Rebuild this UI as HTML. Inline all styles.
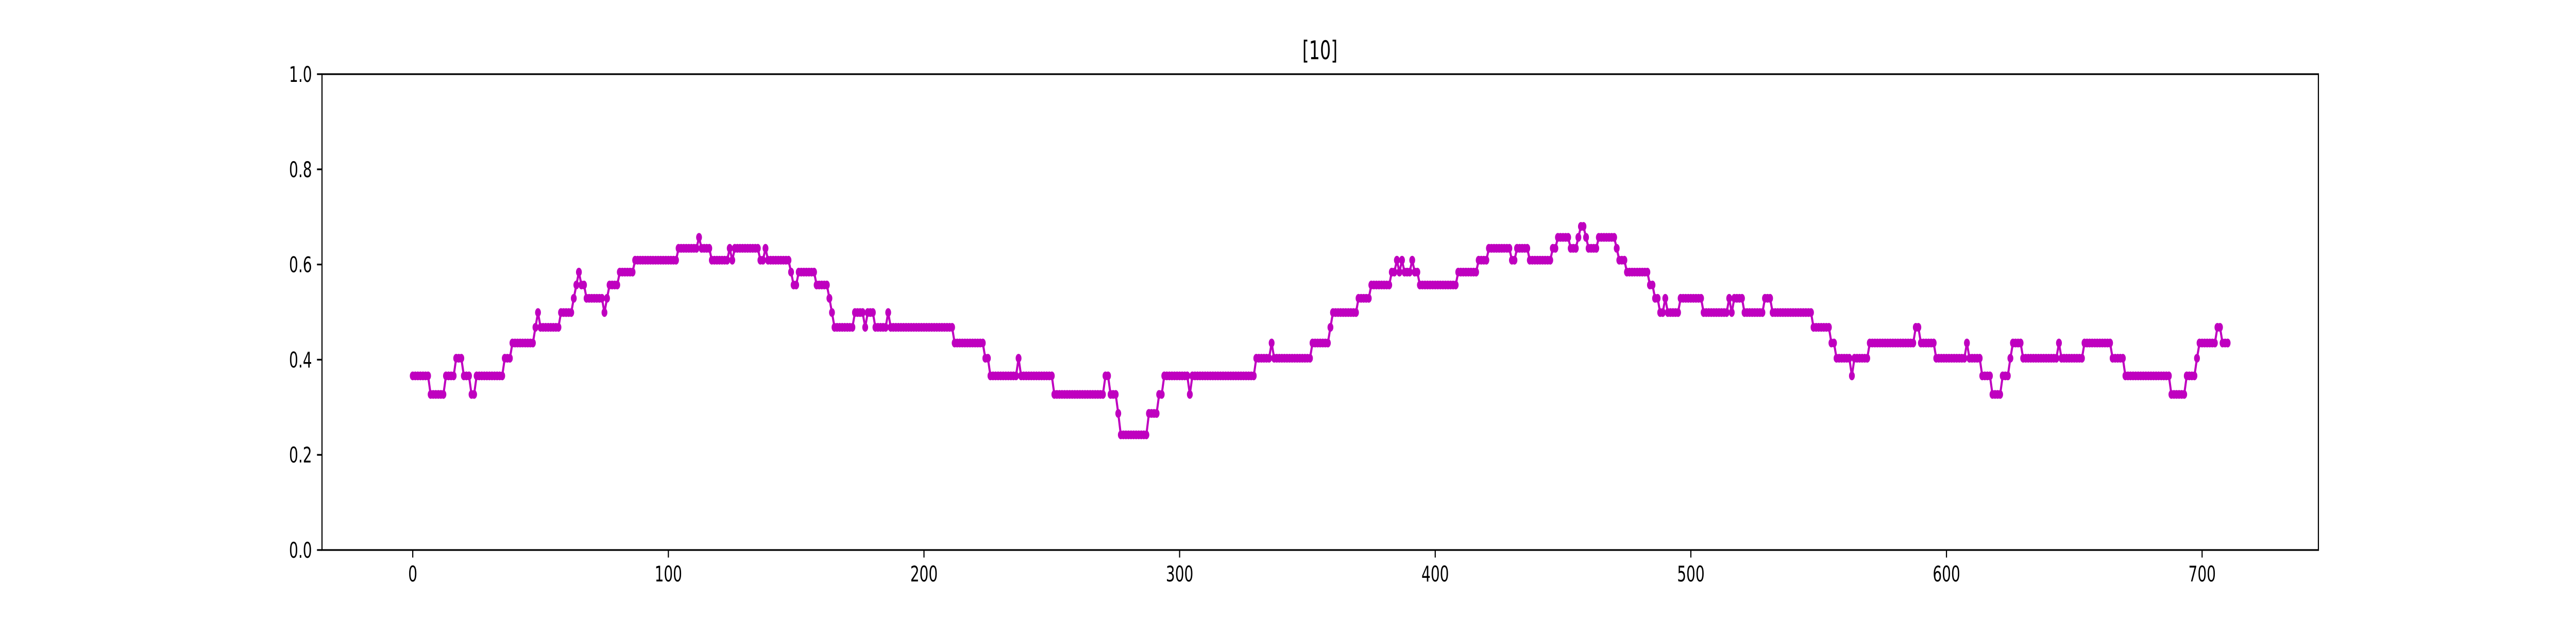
<!DOCTYPE html>
<html><head><meta charset="utf-8">
<style>html,body{margin:0;padding:0;background:#fff;overflow:hidden;width:100%;height:100%}svg{display:block;width:100vw;height:100vh}text{font-family:"DejaVu Sans","Liberation Sans",sans-serif;fill:#000}</style>
</head><body>
<svg id="chart" viewBox="0 0 7500 1200" preserveAspectRatio="none" xmlns="http://www.w3.org/2000/svg">
<rect x="0" y="0" width="7500" height="1200" fill="#fff"/>
<text x="3843" y="115" font-size="50" text-anchor="middle">[10]</text>
<g id="plot"></g>
<g id="axes"></g>
</svg>
<script>
// run-length encoded series: level values and how many consecutive points hold each level
const runLevels = [0.366,0.327,0.366,0.403,0.366,0.327,0.366,0.403,0.435,0.468,0.499,0.468,0.499,0.529,0.557,0.584,0.557,0.529,0.499,0.529,0.557,0.584,0.609,0.634,0.657,0.634,0.609,0.634,0.609,0.634,0.609,0.634,0.609,0.584,0.557,0.584,0.557,0.529,0.499,0.468,0.499,0.468,0.499,0.468,0.499,0.468,0.435,0.403,0.366,0.403,0.366,0.327,0.366,0.327,0.287,0.242,0.287,0.327,0.366,0.327,0.366,0.403,0.435,0.403,0.435,0.468,0.499,0.529,0.557,0.584,0.609,0.584,0.609,0.584,0.609,0.584,0.557,0.584,0.609,0.634,0.609,0.634,0.609,0.634,0.657,0.634,0.657,0.680,0.657,0.634,0.657,0.634,0.609,0.584,0.557,0.529,0.499,0.529,0.499,0.529,0.499,0.529,0.499,0.529,0.499,0.529,0.499,0.468,0.435,0.403,0.366,0.403,0.435,0.468,0.435,0.403,0.435,0.403,0.366,0.327,0.366,0.403,0.435,0.403,0.435,0.403,0.435,0.403,0.366,0.327,0.366,0.403,0.435,0.468,0.435];
const runLengths = [7,6,4,3,3,2,11,3,9,1,1,8,5,1,1,1,2,7,1,1,4,6,17,8,1,4,7,1,1,10,2,1,9,1,2,7,5,1,1,8,4,1,3,5,1,25,12,2,11,1,13,20,2,3,1,11,4,2,10,1,25,6,1,15,7,1,10,5,8,2,1,1,1,3,1,2,15,8,4,9,2,5,9,2,5,3,1,2,1,4,7,1,3,9,2,2,2,1,5,9,10,1,1,4,8,3,16,7,2,6,1,6,18,2,6,12,1,5,4,4,3,1,4,14,1,9,11,5,18,6,4,1,7,2,3];
const xTicks = [0,100,200,300,400,500,600,700];
const yTicks = [0.0,0.2,0.4,0.6,0.8,1.0];
const xDomain = [-35.5, 745.5];
const yDomain = [0, 1];

const values = [];
for (let i = 0; i < runLevels.length; i++) for (let k = 0; k < runLengths[i]; k++) values.push(runLevels[i]);

const L = 937.5, R = 6750, T = 144, B = 1068;
const sx = v => L + (v - xDomain[0]) / (xDomain[1] - xDomain[0]) * (R - L);
const sy = v => B - (v - yDomain[0]) / (yDomain[1] - yDomain[0]) * (B - T);
const NS = 'http://www.w3.org/2000/svg';
const plot = document.getElementById('plot');
const axes = document.getElementById('axes');
function mk(tag, attrs, parent) {
  const e = document.createElementNS(NS, tag);
  for (const k in attrs) e.setAttribute(k, attrs[k]);
  parent.appendChild(e);
  return e;
}
const color = '#bf00bf';
let d = '';
values.forEach((v, i) => { d += (i ? 'L' : 'M') + sx(i).toFixed(2) + ',' + sy(v).toFixed(2); });
const line = mk('path', {d: d, fill: 'none', stroke: color, 'stroke-width': 6, 'stroke-linejoin': 'round'}, plot);


values.forEach((v, i) => {
  const c = mk('circle', {cx: sx(i).toFixed(2), cy: sy(v).toFixed(2), r: 8.5, fill: color}, plot);
  
  
});
const frame = mk('rect', {x: L, y: T, width: R - L, height: B - T, fill: 'none', stroke: '#000', 'stroke-width': 3.3}, axes);


xTicks.forEach(t => {
  const x = sx(t);
  const tk = mk('line', {x1: x, x2: x, y1: B, y2: B + 14.6, stroke: '#000', 'stroke-width': 3.3}, axes);
  
  
  const tx = mk('text', {x: x, y: B + 14.6 + 14.6 + 32, 'font-size': 42, 'text-anchor': 'middle'}, axes);
  tx.textContent = String(t);
  
  
});
yTicks.forEach(t => {
  const y = sy(t);
  const tk = mk('line', {x1: L - 14.6, x2: L, y1: y, y2: y, stroke: '#000', 'stroke-width': 3.3}, axes);
  
  
  const tx = mk('text', {x: L - 14.6 - 14.6, y: y + 15, 'font-size': 42, 'text-anchor': 'end'}, axes);
  tx.textContent = t.toFixed(1);
  
  
});
</script>
</body></html>
